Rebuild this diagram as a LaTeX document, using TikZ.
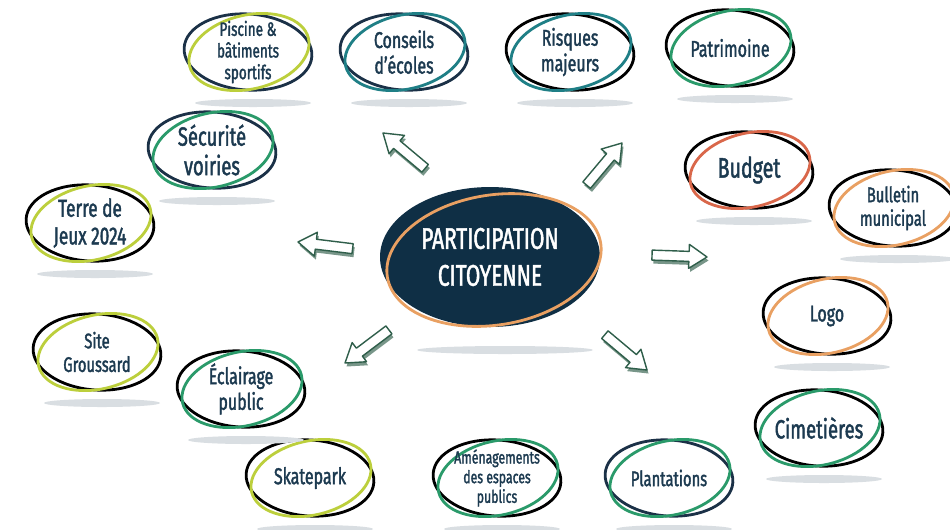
\documentclass[tikz,border=0pt]{standalone}
\usepackage{fontspec}
\setmainfont{Fira Sans}[FakeStretch=0.7,FakeBold=1.6]
\definecolor{navy}{HTML}{1B3147}
\definecolor{deepnavy}{HTML}{0F2F45}
\definecolor{textnavy}{HTML}{1C3A50}
\definecolor{teal}{HTML}{1F7F86}
\definecolor{green}{HTML}{2A9A6A}
\definecolor{lime}{HTML}{BCCF3C}
\definecolor{redorange}{HTML}{D9674A}
\definecolor{ringorange}{HTML}{E9A062}
\definecolor{shadowgray}{HTML}{D9DEE2}
\definecolor{arrowgreen}{HTML}{2F5E4A}

\begin{document}
\begin{tikzpicture}[x=0.02cm,y=-0.02cm]
    \tikzstyle{ring}=[line width=1.6pt]; \tikzstyle{topic}=[text=textnavy,align=center,inner sep=0pt];
    \tikzstyle{arrowline}=[draw=arrowgreen,line width=0.8pt,line join=round];
    \clip (0,0) rectangle (950,529);
    \fill[white] (0,0) rectangle (950,529);

    % centre
    \fill[shadowgray] (505,350) ellipse [x radius=88, y radius=4];
    \fill[deepnavy] (490,257) ellipse [x radius=110, y radius=70];
    \draw[ring,ringorange,shift={(494,260)},rotate=9] (0,0) ellipse [x radius=108, y radius=65];
    \node (centre) [topic,text=white,font=\fontsize{17}{21}\selectfont] at (490,257) {PARTICIPATION\\CITOYENNE};

    % topics
    \foreach \x/\y/\c/\d/\s/\t [count=\i] in {
      248/52/lime/navy/11/{Piscine \&\\bâtiments\\sportifs},
      404/52/teal/navy/13/{Conseils\\d'écoles},
      570/52/teal/black/13/{Risques\\majeurs},
      730/48/green/black/13/{Patrimoine},
      212/150/green/navy/15/{Sécurité\\voiries},
      90/223/lime/black/14/{Terre de\\Jeux 2024},
      749/170/redorange/black/16/{Budget},
      893/208/ringorange/black/12/{Bulletin\\municipal},
      827/316/ringorange/black/13/{Logo},
      819/428/green/black/15/{Cimetières},
      669/478/green/navy/12/{Plantations},
      497/478/green/black/10/{Aménagements\\des espaces\\publics},
      310/478/lime/black/13/{Skatepark},
      241/389/green/black/13/{Éclairage\\public},
      97/352/lime/black/12/{Site\\Groussard}} {
      \pgfmathsetmacro\b{\s*1.12}
      \fill[shadowgray] (\x+5,\y+51) ellipse [x radius=58, y radius=4];
      \draw[ring,\d,shift={(\x,\y)},rotate=-4] (0,0) ellipse [x radius=64, y radius=38];
      \draw[ring,\c,shift={(\x+1,\y)},rotate=13] (0,0) ellipse [x radius=61, y radius=37];
      \node (t\i) [topic,font=\fontsize{\s}{\b}\selectfont] at (\x,\y) {\t};
    }

    % arrows
    \foreach \x/\y/\a in {383/133/140, 298/242/-187, 622/143/50, 707/257/-2, 345/363/-143, 647/370/-40} {
      \fill[arrowgreen!65,shift={(\x+1.5,\y+3.5)},rotate=\a]
        (0,0) -- (-18,-12) -- (-18,-5) -- (-55,-5) -- (-55,5) -- (-18,5) -- (-18,12) -- cycle;
      \draw[arrowline,fill=white,shift={(\x,\y)},rotate=\a]
        (0,0) -- (-18,-12) -- (-18,-5) -- (-55,-5) -- (-55,5) -- (-18,5) -- (-18,12) -- cycle;
    }
  \end{tikzpicture}
\end{document}
